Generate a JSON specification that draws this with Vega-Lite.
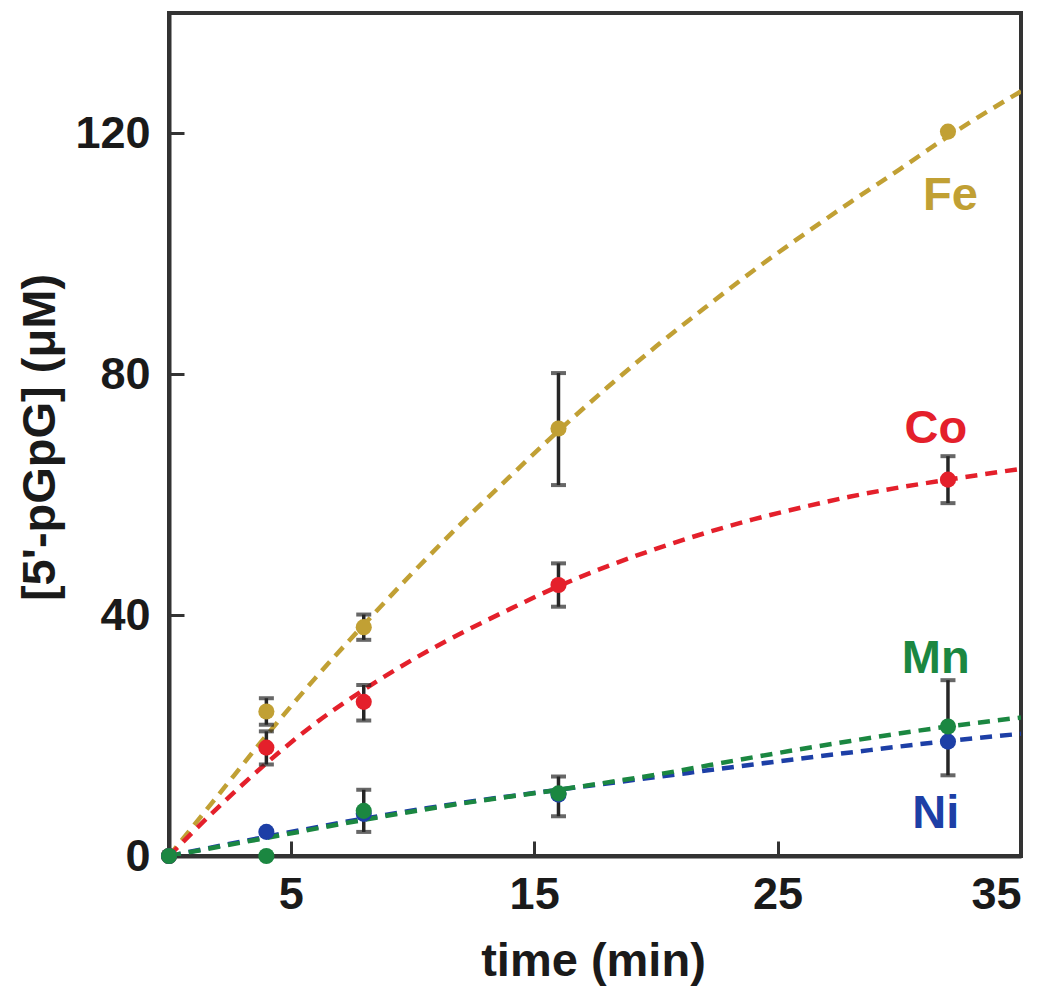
{
  "$schema": "https://vega.github.io/schema/vega-lite/v6.json",
  "width": 852,
  "height": 843,
  "autosize": {"type": "none"},
  "padding": {"left": 169, "top": 13, "right": 29, "bottom": 145},
  "background": "white",
  "config": {
    "view": {"stroke": "#333333", "strokeWidth": 4},
    "font": "Liberation Sans",
    "axis": {
      "domainColor": "#333333",
      "domainWidth": 4,
      "tickColor": "#333333",
      "tickWidth": 3,
      "tickSize": -15,
      "grid": false,
      "labelFont": "Liberation Sans",
      "labelFontWeight": "bold",
      "labelFontSize": 45,
      "labelColor": "#1a1a1a",
      "titleFont": "Liberation Sans",
      "titleFontWeight": "bold",
      "titleFontSize": 47,
      "titleColor": "#1a1a1a"
    }
  },
  "datasets": {
    "points": [
      {"series": "Fe", "time": 0, "value": 0},
      {"series": "Fe", "time": 4, "value": 24, "lo": 21.8, "hi": 26.2},
      {"series": "Fe", "time": 8, "value": 38, "lo": 35.9, "hi": 40.1},
      {"series": "Fe", "time": 16, "value": 71, "lo": 61.6, "hi": 80.2},
      {"series": "Fe", "time": 32, "value": 120.3},
      {"series": "Co", "time": 0, "value": 0},
      {"series": "Co", "time": 4, "value": 18, "lo": 15.2, "hi": 20.7},
      {"series": "Co", "time": 8, "value": 25.6, "lo": 22.5, "hi": 28.4},
      {"series": "Co", "time": 16, "value": 45, "lo": 41.4, "hi": 48.6},
      {"series": "Co", "time": 32, "value": 62.5, "lo": 58.6, "hi": 66.4},
      {"series": "Ni", "time": 0, "value": 0},
      {"series": "Ni", "time": 4, "value": 4},
      {"series": "Ni", "time": 8, "value": 7},
      {"series": "Ni", "time": 16, "value": 10.2},
      {"series": "Ni", "time": 32, "value": 19},
      {"series": "Mn", "time": 0, "value": 0},
      {"series": "Mn", "time": 4, "value": 0},
      {"series": "Mn", "time": 8, "value": 7.5, "lo": 4.0, "hi": 11},
      {"series": "Mn", "time": 16, "value": 10.4, "lo": 6.6, "hi": 13.2},
      {"series": "Mn", "time": 32, "value": 21.5, "lo": 13.4, "hi": 29.2}
    ],
    "curves": [
      {"series": "Fe", "time": 0, "value": 0},
      {"series": "Fe", "time": 2, "value": 10},
      {"series": "Fe", "time": 4, "value": 20},
      {"series": "Fe", "time": 6, "value": 29.5},
      {"series": "Fe", "time": 8, "value": 38.4},
      {"series": "Fe", "time": 10, "value": 47},
      {"series": "Fe", "time": 12, "value": 55.2},
      {"series": "Fe", "time": 14, "value": 63},
      {"series": "Fe", "time": 16, "value": 70.6},
      {"series": "Fe", "time": 18, "value": 77.8},
      {"series": "Fe", "time": 20, "value": 84.6},
      {"series": "Fe", "time": 22, "value": 91},
      {"series": "Fe", "time": 24, "value": 97.2},
      {"series": "Fe", "time": 26, "value": 103},
      {"series": "Fe", "time": 28, "value": 108.6},
      {"series": "Fe", "time": 30, "value": 114},
      {"series": "Fe", "time": 32, "value": 119.5},
      {"series": "Fe", "time": 35, "value": 127},
      {"series": "Co", "time": 0, "value": 0},
      {"series": "Co", "time": 2, "value": 8},
      {"series": "Co", "time": 4, "value": 15.4},
      {"series": "Co", "time": 6, "value": 22},
      {"series": "Co", "time": 8, "value": 27.6},
      {"series": "Co", "time": 10, "value": 32.6},
      {"series": "Co", "time": 12, "value": 37},
      {"series": "Co", "time": 14, "value": 41},
      {"series": "Co", "time": 16, "value": 44.8},
      {"series": "Co", "time": 18, "value": 48.1},
      {"series": "Co", "time": 20, "value": 51},
      {"series": "Co", "time": 22, "value": 53.6},
      {"series": "Co", "time": 24, "value": 55.9},
      {"series": "Co", "time": 26, "value": 57.9},
      {"series": "Co", "time": 28, "value": 59.7},
      {"series": "Co", "time": 30, "value": 61.2},
      {"series": "Co", "time": 32, "value": 62.5},
      {"series": "Co", "time": 35, "value": 64.3},
      {"series": "Ni", "time": 0, "value": 0},
      {"series": "Ni", "time": 4, "value": 3.2},
      {"series": "Ni", "time": 8, "value": 6.2},
      {"series": "Ni", "time": 12, "value": 8.8},
      {"series": "Ni", "time": 16, "value": 11},
      {"series": "Ni", "time": 20, "value": 13.1},
      {"series": "Ni", "time": 24, "value": 15.2},
      {"series": "Ni", "time": 28, "value": 17.2},
      {"series": "Ni", "time": 32, "value": 19.1},
      {"series": "Ni", "time": 35, "value": 20.3},
      {"series": "Mn", "time": 0, "value": 0},
      {"series": "Mn", "time": 4, "value": 3},
      {"series": "Mn", "time": 8, "value": 6},
      {"series": "Mn", "time": 12, "value": 8.7},
      {"series": "Mn", "time": 16, "value": 11},
      {"series": "Mn", "time": 20, "value": 13.5},
      {"series": "Mn", "time": 24, "value": 16.4},
      {"series": "Mn", "time": 28, "value": 19.1},
      {"series": "Mn", "time": 32, "value": 21.5},
      {"series": "Mn", "time": 35, "value": 23}
    ],
    "labels": [
      {"series": "Fe", "time": 32.1, "value": 107.3},
      {"series": "Co", "time": 31.5, "value": 68.6},
      {"series": "Mn", "time": 31.5, "value": 30.4},
      {"series": "Ni", "time": 31.5, "value": 4.65}
    ]
  },
  "encoding": {
    "x": {
      "field": "time",
      "type": "quantitative",
      "scale": {"domain": [0, 35], "nice": false, "zero": false},
      "axis": {
        "values": [5, 15, 25, 35],
        "title": "time (min)",
        "labelPadding": 31,
        "titleX": 424,
        "titleY": 119,
        "titleBaseline": "alphabetic",
        "titleAnchor": null
      }
    },
    "y": {
      "field": "value",
      "type": "quantitative",
      "scale": {"domain": [0, 140], "nice": false},
      "axis": {
        "values": [0, 40, 80, 120],
        "title": "[5'-pGpG] (μM)",
        "labelPadding": 34,
        "titleX": -129,
        "titleY": 424,
        "titleAngle": -90,
        "titleBaseline": "middle",
        "titleAlign": "center",
        "titleAnchor": null
      }
    },
    "color": {
      "field": "series",
      "type": "nominal",
      "scale": {
        "domain": ["Fe", "Co", "Ni", "Mn"],
        "range": ["#C1A034", "#E4202B", "#1D3FA6", "#1B8741"]
      },
      "legend": null
    }
  },
  "layer": [
    {
      "data": {"name": "curves"},
      "mark": {"type": "line", "strokeDash": [12, 8], "strokeWidth": 4.5, "interpolate": "monotone", "clip": true}
    },
    {
      "data": {"name": "points"},
      "transform": [{"filter": "isValid(datum.lo)"}],
      "mark": {"type": "rule", "color": "#262626", "strokeWidth": 3.5},
      "encoding": {
        "y": {"field": "lo", "type": "quantitative"},
        "y2": {"field": "hi"},
        "color": {"value": "#262626"}
      }
    },
    {
      "data": {"name": "points"},
      "transform": [{"filter": "isValid(datum.lo)"}],
      "mark": {"type": "tick", "orient": "horizontal", "size": 15, "thickness": 4, "color": "#262626"},
      "encoding": {
        "y": {"field": "lo", "type": "quantitative"},
        "color": {"value": "#262626"}
      }
    },
    {
      "data": {"name": "points"},
      "transform": [{"filter": "isValid(datum.hi)"}],
      "mark": {"type": "tick", "orient": "horizontal", "size": 15, "thickness": 4, "color": "#262626"},
      "encoding": {
        "y": {"field": "hi", "type": "quantitative"},
        "color": {"value": "#262626"}
      }
    },
    {
      "data": {"name": "points"},
      "mark": {"type": "circle", "size": 260, "opacity": 1}
    },
    {
      "data": {"name": "labels"},
      "mark": {"type": "text", "font": "Liberation Sans", "fontWeight": "bold", "fontSize": 47, "align": "center", "baseline": "alphabetic"},
      "encoding": {"text": {"field": "series"}}
    }
  ]
}
